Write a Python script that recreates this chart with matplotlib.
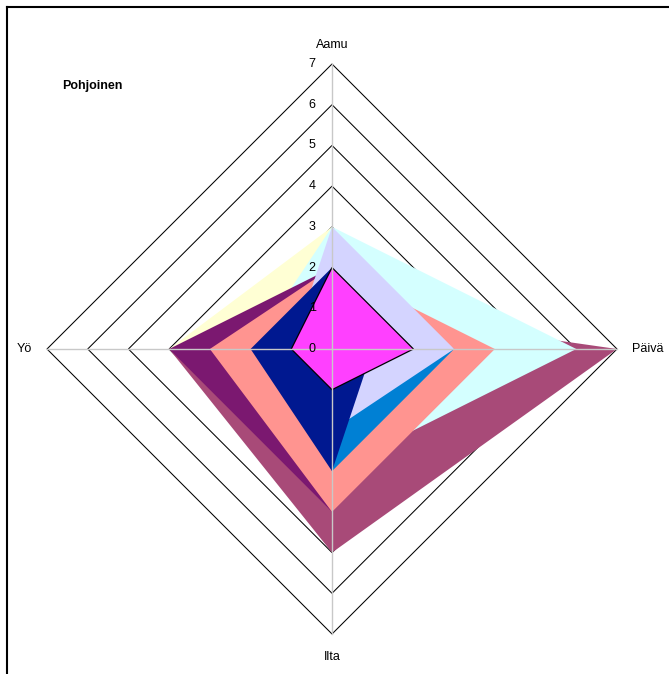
import matplotlib

matplotlib.use("Agg")
import matplotlib.pyplot as plt
import numpy as np
from matplotlib.lines import Line2D

plt.rcParams["font.family"] = ["Liberation Sans", "DejaVu Sans"]

AXES = ["Aamu", "Päivä", "Ilta", "Yö"]
TICKS = [0, 1, 2, 3, 4, 5, 6, 7]
TITLE = "Pohjoinen"

# sarjat piirtojärjestyksessä (ensimmäinen jää taakse)
SERIES_NAMES = ["S2", "S3", "S4", "S5", "S6", "S7", "S8", "S9", "S10"]
S2 = [1, 7, 5, 4]
S3 = [3, 2, 2, 4]
S4 = [3, 6, 3, 2]
S5 = [2, 3, 4, 4]
S6 = [2, 4, 4, 3]
S7 = [2, 3, 3, 1]
S8 = [3, 3, 2, 1]
S9 = [2, 1, 3, 2]
S10 = [2, 2, 1, 1]
SERIES = [S2, S3, S4, S5, S6, S7, S8, S9, S10]
COLORS = ["#A84A78", "#FFFFD4", "#D4FFFF", "#7B1870", "#FF9490",
          "#0080D4", "#D4D4FF", "#001890", "#FF40FF"]

W, H = 669, 674
CX, CY = 332, 349          # keskipiste pikseleinä (ylhäältä)
PX_PER_UNIT = 285 / 7


def to_xy(values):
    # Aamu ylös, Päivä oikealle, Ilta alas, Yö vasemmalle
    ang = np.pi / 2 - np.arange(len(AXES)) * 2 * np.pi / len(AXES)
    v = np.asarray(values, dtype=float)
    return v * np.cos(ang), v * np.sin(ang)


fig = plt.figure(figsize=(W / 100, H / 100), dpi=100)
ax = fig.add_axes([0, 0, 1, 1])
ax.set_xlim(-CX / PX_PER_UNIT, (W - CX) / PX_PER_UNIT)
ax.set_ylim(-(H - CY) / PX_PER_UNIT, CY / PX_PER_UNIT)
ax.axis("off")

# ruudukon vinoneliöt
for t in TICKS[1:]:
    gx, gy = to_xy([t] * len(AXES))
    ax.fill(gx, gy, facecolor="none", edgecolor="black", lw=0.75, zorder=1)

# täytetyt sarjat
for i, (vals, col) in enumerate(zip(SERIES, COLORS)):
    x, y = to_xy(vals)
    edge = "black" if i == len(SERIES) - 1 else "none"
    ax.fill(x, y, facecolor=col, edgecolor=edge, lw=0.9, zorder=2 + i)

# säteet
top = TICKS[-1]
for k in range(len(AXES)):
    vals = [0] * len(AXES)
    vals[k] = top
    sx, sy = to_xy(vals)
    ax.plot([0, sx[k]], [0, sy[k]], color="#C8C8C8", lw=1.0, zorder=20)

# asteikon numerot Aamu-akselin vasemmalla puolella
for t in TICKS:
    ax.text(-0.4, t, str(t), ha="right", va="center", fontsize=9, zorder=21)

# akselien nimet
off = 19 / PX_PER_UNIT
ax.text(0, top + off, AXES[0], ha="center", va="center", fontsize=9)
ax.text(top + 15 / PX_PER_UNIT, 0, AXES[1], ha="left", va="center", fontsize=9)
ax.text(0, -(top + 23 / PX_PER_UNIT), AXES[2], ha="center", va="center", fontsize=9)
ax.text(-(top + 15 / PX_PER_UNIT), 0, AXES[3], ha="right", va="center", fontsize=9)

fig.text(62 / W, 1 - 86 / H, TITLE, ha="left", va="center",
         fontsize=9, fontweight="bold")

# kaavioalueen reunat (vasen ja ylä)
fig.add_artist(Line2D([7 / W, 7 / W], [0, 1 - 7 / H], color="black", lw=1.5))
fig.add_artist(Line2D([7 / W, 1], [1 - 7 / H, 1 - 7 / H], color="black", lw=1.5))

fig.savefig("out.png", dpi=100)
plt.close(fig)
